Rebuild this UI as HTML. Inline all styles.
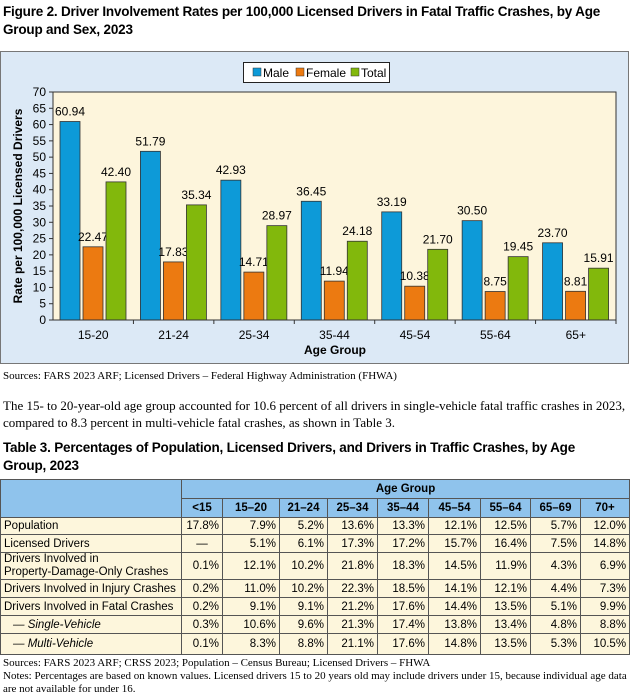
<!DOCTYPE html>
<html><head><meta charset="utf-8"><style>
body{margin:0;width:630px;height:700px;background:#fff;font-family:"Liberation Sans",Arial,sans-serif;position:relative;overflow:hidden}
.abs{position:absolute}
.t{font-weight:bold;font-size:13.5px;letter-spacing:-0.2px;line-height:18px;left:3px;top:3px;width:627px}
.serif{font-family:"Liberation Serif",serif;color:#000}
table{border-collapse:collapse;position:absolute;left:0;top:479px;font-size:11.5px;table-layout:fixed;width:629px}
td{border:1px solid #555;padding:0 3px;height:17px;text-align:right;background:#fdf6dc;white-space:nowrap;overflow:hidden;box-sizing:border-box}
td.l{text-align:left;background:#fdf6dc}
.h td{background:#8fc3ec;text-align:center;font-weight:bold}
td.i{font-style:italic;padding-left:12px}
</style></head><body>
<div class="abs t">Figure 2. Driver Involvement Rates per 100,000 Licensed Drivers in Fatal Traffic Crashes, by Age Group and Sex, 2023</div>
<svg class="abs" style="left:0;top:0" width="630" height="370" id="chart">
<rect x="0.5" y="51.5" width="628" height="312" fill="#dce9f6" stroke="#777"/>
<rect x="53" y="92" width="563" height="228" fill="#fdf5dc" stroke="#333"/>
<g>
<rect x="243.5" y="62.5" width="146" height="20" fill="#fff" stroke="#222"/>
<rect x="253" y="68" width="8" height="8" fill="#0d9ad8" stroke="#333" stroke-width="0.5"/><text x="263" y="77" font-size="12">Male</text>
<rect x="296" y="68" width="8" height="8" fill="#ec7a11" stroke="#333" stroke-width="0.5"/><text x="306" y="77" font-size="12">Female</text>
<rect x="351" y="68" width="8" height="8" fill="#82b80c" stroke="#333" stroke-width="0.5"/><text x="361" y="77" font-size="12">Total</text>
</g>
<text transform="translate(22,206) rotate(-90)" text-anchor="middle" font-size="12" font-weight="bold">Rate per 100,000 Licensed Drivers</text>
<text x="335" y="354" text-anchor="middle" font-size="12" font-weight="bold">Age Group</text>
<g id="marks"></g>
</svg>
<div class="abs serif" style="left:3px;top:370px;font-size:11px">Sources: FARS 2023 ARF; Licensed Drivers – Federal Highway Administration (FHWA)</div>
<div class="abs serif" style="left:3px;top:397px;font-size:13px;line-height:17px;width:625px">The 15- to 20-year-old age group accounted for 10.6 percent of all drivers in single-vehicle fatal traffic crashes in 2023, compared to 8.3 percent in multi-vehicle fatal crashes, as shown in Table 3.</div>
<div class="abs t" style="top:439px;width:600px">Table 3. Percentages of Population, Licensed Drivers, and Drivers in Traffic Crashes, by Age Group, 2023</div>
<table>
<colgroup><col style="width:181px"><col style="width:41px"><col style="width:57px"><col style="width:48px"><col style="width:50px"><col style="width:51px"><col style="width:52px"><col style="width:50px"><col style="width:50px"><col style="width:49px"></colgroup>
<tr class="h"><td style="background:#8fc3ec" rowspan="2"></td><td colspan="9" style="height:19px">Age Group</td></tr>
<tr class="h"><td style="height:19px">&lt;15</td><td>15–20</td><td>21–24</td><td>25–34</td><td>35–44</td><td>45–54</td><td>55–64</td><td>65–69</td><td>70+</td></tr>
<tr><td class="l">Population</td><td>17.8%</td><td>7.9%</td><td>5.2%</td><td>13.6%</td><td>13.3%</td><td>12.1%</td><td>12.5%</td><td>5.7%</td><td>12.0%</td></tr>
<tr><td class="l" style="height:18px">Licensed Drivers</td><td style="text-align:center">—</td><td>5.1%</td><td>6.1%</td><td>17.3%</td><td>17.2%</td><td>15.7%</td><td>16.4%</td><td>7.5%</td><td>14.8%</td></tr>
<tr><td class="l" style="line-height:13px;height:27px">Drivers Involved in<br>Property-Damage-Only Crashes</td><td>0.1%</td><td>12.1%</td><td>10.2%</td><td>21.8%</td><td>18.3%</td><td>14.5%</td><td>11.9%</td><td>4.3%</td><td>6.9%</td></tr>
<tr><td class="l" style="height:18px">Drivers Involved in Injury Crashes</td><td>0.2%</td><td>11.0%</td><td>10.2%</td><td>22.3%</td><td>18.5%</td><td>14.1%</td><td>12.1%</td><td>4.4%</td><td>7.3%</td></tr>
<tr><td class="l" style="height:18px">Drivers Involved in Fatal Crashes</td><td>0.2%</td><td>9.1%</td><td>9.1%</td><td>21.2%</td><td>17.6%</td><td>14.4%</td><td>13.5%</td><td>5.1%</td><td>9.9%</td></tr>
<tr><td class="l i" style="height:18px">— Single-Vehicle</td><td>0.3%</td><td>10.6%</td><td>9.6%</td><td>21.3%</td><td>17.4%</td><td>13.8%</td><td>13.4%</td><td>4.8%</td><td>8.8%</td></tr>
<tr><td class="l i" style="height:21px">— Multi-Vehicle</td><td>0.1%</td><td>8.3%</td><td>8.8%</td><td>21.1%</td><td>17.6%</td><td>14.8%</td><td>13.5%</td><td>5.3%</td><td>10.5%</td></tr>
</table>
<div class="abs serif" style="left:3px;top:657px;font-size:11px;line-height:13px;width:625px">Sources: FARS 2023 ARF; CRSS 2023; Population – Census Bureau; Licensed Drivers – FHWA<br>Notes: Percentages are based on known values. Licensed drivers 15 to 20 years old may include drivers under 15, because individual age data are not available for under 16.</div>
<script>
const categories=["15-20","21-24","25-34","35-44","45-54","55-64","65+"];
const male=[60.94,51.79,42.93,36.45,33.19,30.50,23.70];
const female=[22.47,17.83,14.71,11.94,10.38,8.75,8.81];
const total=[42.40,35.34,28.97,24.18,21.70,19.45,15.91];
const yTicks=[0,5,10,15,20,25,30,35,40,45,50,55,60,65,70];
const NS="http://www.w3.org/2000/svg";
const X0=53,X1=616,Y0=320,Y1=92,YMAX=70;
const gw=(X1-X0)/categories.length;
function y(v){return Y0-(v/YMAX)*(Y0-Y1);}
function gx(i){return X0+i*gw;}
const g=document.getElementById('marks');
function el(t,a){const e=document.createElementNS(NS,t);for(const k in a)e.setAttribute(k,a[k]);g.appendChild(e);return e;}
yTicks.forEach(v=>{
  const t=el('line',{x1:X0-4,x2:X0,y1:y(v),y2:y(v),stroke:'#333'});
  
  
  const l=el('text',{x:X0-7,y:y(v)+4,'text-anchor':'end','font-size':12});
  l.textContent=v;
  
  
});
const series=[[male,'#0d9ad8','male'],[female,'#ec7a11','female'],[total,'#82b80c','total']];
categories.forEach((c,i)=>{
  const tk=el('line',{x1:gx(i+1),x2:gx(i+1),y1:Y0,y2:Y0+4,stroke:'#333'});
  
  
  const cl=el('text',{x:gx(i)+gw/2,y:Y0+19,'text-anchor':'middle','font-size':12});
  cl.textContent=c;
  
  
  series.forEach((s,j)=>{
    const bx=gx(i)+7+j*23,v=s[0][i];
    const r=el('rect',{x:bx,y:y(v),width:20,height:Y0-y(v),fill:s[1],stroke:'#333','stroke-width':0.8});
    
    
    const t=el('text',{x:bx+10,y:y(v)-6,'text-anchor':'middle','font-size':12});
    t.textContent=v.toFixed(2);
    
    
  });
});
el('line',{x1:X0,x2:X1,y1:Y0,y2:Y0,stroke:'#333'});
</script>
</body></html>
